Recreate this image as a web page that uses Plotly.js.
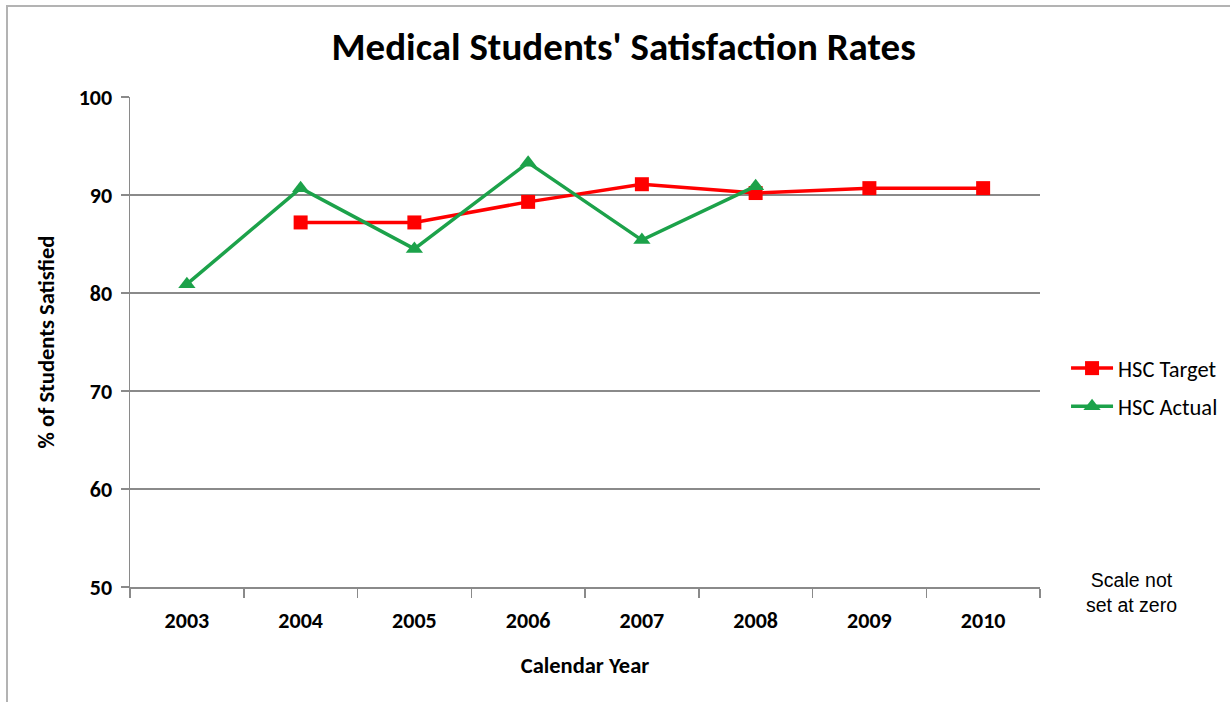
<!DOCTYPE html>
<html>
<head>
<meta charset="utf-8">
<script src="https://cdn.plot.ly/plotly-3.0.1.min.js"></script>
<style>
  html, body { margin: 0; padding: 0; background: #fff; }
  #wrap { position: relative; width: 1230px; height: 702px; }
  #chart { width: 1230px; height: 702px; }
  #frame { position: absolute; left: 6px; top: 5px; width: 1300px; height: 800px;
           border-left: 2px solid #b3b3b3; border-top: 2px solid #b3b3b3; pointer-events: none; }
</style>
</head>
<body>
<div id="wrap">
  <div id="chart"></div>
  <div id="frame"></div>
</div>
<script>
const years = ["2003", "2004", "2005", "2006", "2007", "2008", "2009", "2010"];
const hscTarget = [null, 87.2, 87.2, 89.3, 91.1, 90.2, 90.7, 90.7];
const hscActual = [80.9, 90.7, 84.5, 93.3, 85.4, 90.9, null, null];
const yTicks = [50, 60, 70, 80, 90, 100];

const FONT = "Carlito, Calibri, 'Open Sans', sans-serif";

const traces = [
  {
    x: years, y: hscTarget, name: "HSC Target", type: "scatter", mode: "lines+markers",
    legendgroup: "t",
    line: { color: "#ff0000", width: 3.5 },
    marker: { symbol: "square", size: 14, color: "#ff0000" },
    connectgaps: false
  },
  {
    x: years, y: hscActual, name: "HSC Actual", type: "scatter", mode: "lines+markers",
    legendgroup: "a",
    line: { color: "#1ca24a", width: 3.5 },
    marker: { symbol: "triangle-up", size: 15, color: "#1ca24a" },
    connectgaps: false
  }
];

const layout = {
  width: 1230, height: 702,
  paper_bgcolor: "#ffffff", plot_bgcolor: "#ffffff",
  margin: { l: 130, r: 190, t: 97, b: 115 },
  font: { family: FONT, color: "#000" },
  title: {
    text: "<b>Medical Students' Satisfaction Rates</b>",
    font: { family: FONT, size: 39, color: "#000" },
    x: 0.507, xanchor: "center", y: 0.934, yanchor: "middle"
  },
  xaxis: {
    type: "category", categoryorder: "array", categoryarray: years,
    range: [-0.5, 7.5], fixedrange: true,
    showline: true, linecolor: "#8a8a8a", linewidth: 1.5,
    showgrid: false, zeroline: false,
    ticks: "outside", tickson: "boundaries", ticklen: 9, tickcolor: "#8a8a8a", tickwidth: 1.5,
    tickfont: { family: FONT, size: 22, color: "#000", weight: "bold" },
    ticklabelstandoff: 13,
    title: { text: "<b>Calendar Year</b>", font: { family: FONT, size: 22.5, color: "#000" }, standoff: 24 }
  },
  yaxis: {
    range: [50, 100], tickvals: yTicks, fixedrange: true,
    showline: true, linecolor: "#8a8a8a", linewidth: 1.5,
    showgrid: true, gridcolor: "#8a8a8a", gridwidth: 1.5, zeroline: false,
    ticks: "outside", ticklen: 8, tickcolor: "#8a8a8a", tickwidth: 1.5,
    tickfont: { family: FONT, size: 22, color: "#000", weight: "bold" },
    ticklabelstandoff: 4,
    title: { text: "<b>% of Students Satisfied</b>", font: { family: FONT, size: 22.5, color: "#000" }, standoff: 18 }
  },
  legend: {
    xref: "container", yref: "container",
    x: 0.8667, xanchor: "left", y: 0.5057, yanchor: "top",
    font: { family: FONT, size: 22.5, color: "#000" },
    bgcolor: "rgba(0,0,0,0)", tracegroupgap: 6, itemwidth: 42
  },
  annotations: [
    {
      text: "Scale not<br>set at zero", showarrow: false,
      xref: "paper", yref: "paper", x: 1.1, y: -0.011, xanchor: "center", yanchor: "middle",
      font: { family: "'Liberation Sans', Arial, sans-serif", size: 19.5, color: "#000" }, align: "center"
    }
  ],
  showlegend: true
};

Plotly.newPlot("chart", traces, layout, { displayModeBar: false, staticPlot: true });
</script>
</body>
</html>
